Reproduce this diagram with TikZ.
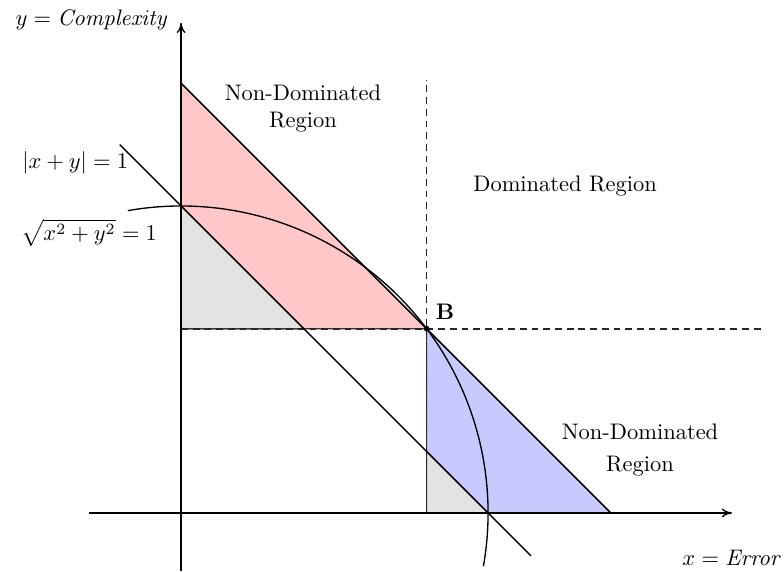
\documentclass[tikz,border=0pt]{standalone}
\usepackage{amsmath}
\usepackage{tikz}
\usetikzlibrary{arrows.meta,calc,positioning}
\colorlet{nondomred}{red!22}
\colorlet{nondomblue}{blue!21}
\colorlet{insidegray}{black!11}
\tikzset{
  axis/.style={black, line width=0.6pt, -{To[length=1.6mm,width=1.4mm]}},
  curve/.style={black, line width=0.6pt},
  bound/.style={black!85, line width=0.7pt, dash pattern=on 3pt off 2.2pt},
  region/.style={draw=black!80, line width=0.5pt}
}
\begin{document}
\begin{tikzpicture}[x=4.8cm, y=4.8cm]

  \useasboundingbox (-0.59,-0.192) rectangle (1.964,1.671);

  % Reference points.
  \coordinate (O) at (0,0);
  \coordinate (B) at (0.8,0.6);
  \coordinate (Btop) at (0,1.4);
  \coordinate (Bright) at (1.4,0);
  \coordinate (Bleft) at (0,0.6);
  \coordinate (Bdown) at (0.8,0);

  % Shaded regions.
  \fill[nondomred, region] (Btop) -- (B) -- (Bleft) -- cycle;
  \fill[nondomblue, region] (B) -- (Bright) -- (Bdown) -- cycle;
  \fill[insidegray, region] (0,1) -- (Bleft) -- (0.4,0.6) -- cycle;
  \fill[insidegray, region] (0.8,0.2) -- (Bdown) -- (1,0) -- cycle;

  % Boundaries of the dominated region.
  \draw[bound] (Bleft) -- (1.89,0.6);
  \draw[bound] (Bdown) -- (0.8,1.41);

  % Axes.
  \draw[axis] (-0.3,0) -- (1.795,0) coordinate (xend);
  \draw[axis] (0,-0.19) -- (0,1.597) coordinate (yend);
  \node[anchor=east] (ylabel) at ($(yend)+(-0.015,0.01)$) {$y = \mathit{Complexity}$};
  \node (xlabel) at (1.795,-0.147) {$x = \mathit{Error}$};

  % Unit norms.
  \draw[curve] (-0.2,1.2) -- (1.14,-0.14);
  \draw[curve] (100:1) arc[start angle=100, end angle=-10, radius=1];
  \draw[curve] (Btop) -- (Bright);

  \node (absnorm) at (-0.345,1.14) {$|x+y| = 1$};
  \node (eucnorm) at (-0.30,0.912) {$\sqrt{x^2+y^2} = 1$};

  % Point B.
  \fill (B) circle[radius=1.3pt];
  \node (Blabel) at (0.86,0.655) {$\mathbf{B}$};

  % Region labels.
  \node[align=center] (nondomup) at (0.397,1.319) {Non-Dominated\\Region};
  \node (dom) at (1.251,1.065) {Dominated Region};
  \node[align=center] (nondomdown) at (1.495,0.205) {Non-Dominated\\[2pt]Region};

\end{tikzpicture}
\end{document}
